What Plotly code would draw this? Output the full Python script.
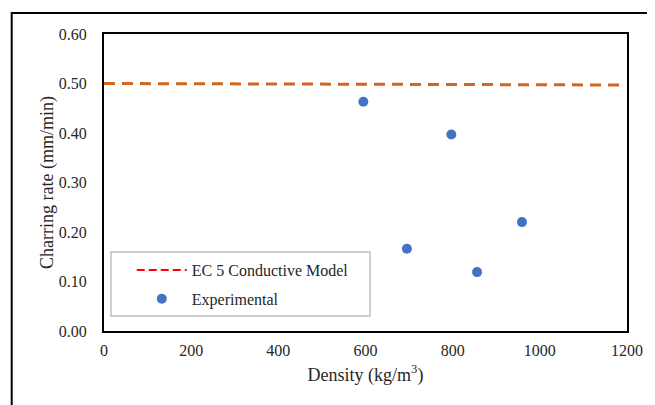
import plotly.graph_objects as go

# Data
model_density = [0, 1190]
model_rate = [0.500, 0.497]
exp_density = [595, 695, 797, 856, 959]
exp_rate = [0.463, 0.166, 0.397, 0.119, 0.220]

x_ticks = [0, 200, 400, 600, 800, 1000, 1200]
y_ticks = [0.0, 0.1, 0.2, 0.3, 0.4, 0.5, 0.6]

FONT = "Liberation Serif"
TXT = "#262626"

fig = go.Figure()
fig.add_trace(go.Scatter(
    x=model_density, y=model_rate, mode="lines",
    line=dict(color="#D0661F", width=3, dash="11px,7px"),
    showlegend=False, hoverinfo="skip"))
# legend entry for the model (red dashed in the legend)
fig.add_trace(go.Scatter(
    x=[None], y=[None], mode="lines", name="EC 5 Conductive Model",
    line=dict(color="#FF0000", width=2, dash="8px,4px"), legendgroup="a"))
fig.add_trace(go.Scatter(
    x=exp_density, y=exp_rate, mode="markers", name="Experimental",
    marker=dict(color="#4472C4", size=10), legendgroup="b"))

OFF = 8  # page body offset
W, H = 647, 397
L, R, T, B = 96, 24, 26, 74
pw, ph = W - L - R, H - T - B

def px(sx):
    return (sx - OFF - L) / pw

def py(sy):
    return (H - B - (sy - OFF)) / ph

fig.update_layout(
    width=W, height=H,
    margin=dict(l=L, r=R, t=T, b=B),
    paper_bgcolor="white", plot_bgcolor="white",
    font=dict(family=FONT, size=16, color=TXT),
    xaxis=dict(
        range=[0, 1200], tickvals=x_ticks, showgrid=False, zeroline=False,
        showline=True, linecolor="black", linewidth=2, mirror=True, ticks="",
        ticklabelstandoff=4,
        tickfont=dict(size=16, color=TXT),
        title=dict(text="Density (kg/m<sup>3</sup>)", font=dict(size=18, color=TXT), standoff=10),
    ),
    yaxis=dict(
        range=[0, 0.6], tickvals=y_ticks, tickformat=".2f", showgrid=False, zeroline=False,
        showline=True, linecolor="black", linewidth=2, mirror=True, ticks="",
        ticklabelstandoff=12,
        tickfont=dict(size=16, color=TXT),
        title=dict(text="Charring rate (mm/min)", font=dict(size=18, color=TXT), standoff=0),
    ),
    legend=dict(
        x=px(132), y=py(253), xanchor="left", yanchor="top",
        bgcolor="rgba(0,0,0,0)", borderwidth=0,
        font=dict(family=FONT, size=16, color=TXT),
        itemwidth=50, tracegroupgap=5, traceorder="grouped",
    ),
    shapes=[
        dict(type="rect", xref="paper", yref="paper",
             x0=px(111), x1=px(372), y0=py(316), y1=py(252),
             line=dict(color="#BFBFBF", width=1.5), fillcolor="rgba(0,0,0,0)", layer="below"),
        dict(type="rect", xref="paper", yref="paper",
             x0=px(11), x1=px(700), y0=py(450), y1=py(13),
             line=dict(color="black", width=2), fillcolor="rgba(0,0,0,0)"),
    ],
)

fig.write_html("out.html")
